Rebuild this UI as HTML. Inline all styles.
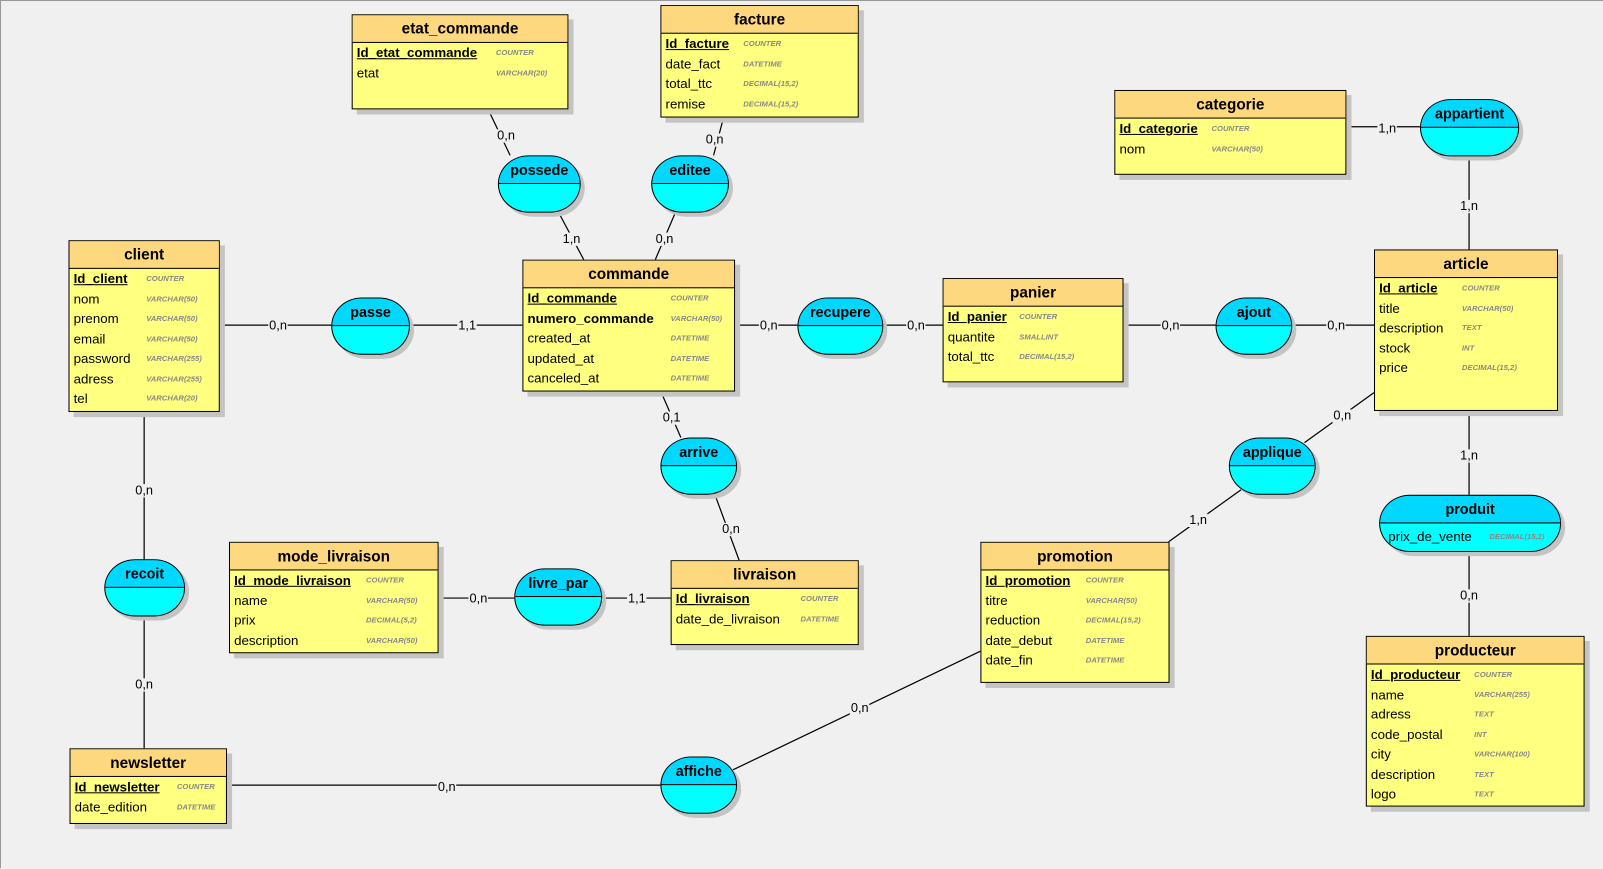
<!DOCTYPE html>
<html><head><meta charset="utf-8"><style>
html,body{margin:0;padding:0;width:1603px;height:868px;overflow:hidden;background:#f0f0f0}
#c{position:absolute;left:0;top:0;width:1568px;height:849px;transform:scale(1.02232);transform-origin:0 0;font-family:"Liberation Sans",sans-serif;border-top:1px solid #999;border-left:1px solid #999;box-sizing:border-box}
.e{position:absolute;border:1px solid #000;background:#ffff80;box-shadow:5px 5px 0 #c4c4c4}
.e .h{height:26px;background:#fed87f;border-bottom:1px solid #000;text-align:center;font-weight:bold;font-size:15px;line-height:27px}
.r{position:relative;height:19.5px;font-size:13px;line-height:19.5px;padding-left:4px;white-space:nowrap}
.r i{position:absolute;top:0;font-size:7.5px;font-weight:bold;color:#888;font-style:italic}
.k{font-weight:bold;text-decoration:underline}
.a{position:absolute;border:1px solid #000;border-radius:30px/28px;overflow:hidden;box-shadow:4px 4px 0 #c4c4c4;background:#00ffff}
.a .t{height:50%;background:#00d8ff;border-bottom:1px solid #000;text-align:center;font-weight:bold;font-size:14px;line-height:26px;box-sizing:border-box}
.l{position:absolute;font-size:12.5px;background:#f0f0f0;transform:translate(-50%,-50%);line-height:13px;padding:0 1px}
svg{position:absolute;left:0;top:0}
</style></head><body><div id="c">
<svg width="1568" height="849" stroke="#000" stroke-width="1.2" fill="none">
<line x1="476" y1="105" x2="498" y2="151"/><line x1="707" y1="113" x2="697" y2="151"/>
<line x1="545" y1="206" x2="570" y2="253"/><line x1="660" y1="206" x2="640" y2="253"/>
<line x1="213" y1="317" x2="323" y2="317"/><line x1="399" y1="317" x2="510" y2="317"/>
<line x1="717" y1="317" x2="779" y2="317"/><line x1="862" y1="317" x2="921" y2="317"/>
<line x1="1097" y1="317" x2="1188" y2="317"/><line x1="1262" y1="317" x2="1343" y2="317"/>
<line x1="1315" y1="123" x2="1388" y2="123"/><line x1="1436" y1="151" x2="1436" y2="243"/>
<line x1="1436" y1="400" x2="1436" y2="483"/><line x1="1436" y1="538" x2="1436" y2="621"/>
<line x1="1343" y1="383" x2="1275" y2="432"/><line x1="1213" y1="478" x2="1142" y2="529"/>
<line x1="645" y1="381" x2="665" y2="427"/><line x1="698" y1="482" x2="722" y2="547"/>
<line x1="140" y1="401" x2="140" y2="546"/><line x1="140" y1="601" x2="140" y2="731"/>
<line x1="427" y1="584" x2="502" y2="584"/><line x1="587" y1="584" x2="655" y2="584"/>
<line x1="220" y1="767" x2="645" y2="767"/><line x1="958" y1="636" x2="716" y2="752"/>
</svg>
<div class="l" style="left:494px;top:132px">0,n</div><div class="l" style="left:698px;top:136px">0,n</div>
<div class="l" style="left:558px;top:233px">1,n</div><div class="l" style="left:649px;top:233px">0,n</div>
<div class="l" style="left:271px;top:318px">0,n</div><div class="l" style="left:456px;top:318px">1,1</div>
<div class="l" style="left:751px;top:318px">0,n</div><div class="l" style="left:895px;top:318px">0,n</div>
<div class="l" style="left:1144px;top:318px">0,n</div><div class="l" style="left:1306px;top:318px">0,n</div>
<div class="l" style="left:1356px;top:125px">1,n</div><div class="l" style="left:1436px;top:201px">1,n</div>
<div class="l" style="left:1436px;top:445px">1,n</div><div class="l" style="left:1436px;top:582px">0,n</div>
<div class="l" style="left:1312px;top:406px">0,n</div><div class="l" style="left:1171px;top:508px">1,n</div>
<div class="l" style="left:656px;top:408px">0,1</div><div class="l" style="left:714px;top:517px">0,n</div>
<div class="l" style="left:140px;top:479px">0,n</div><div class="l" style="left:140px;top:669px">0,n</div>
<div class="l" style="left:467px;top:585px">0,n</div><div class="l" style="left:622px;top:585px">1,1</div>
<div class="l" style="left:436px;top:769px">0,n</div><div class="l" style="left:840px;top:692px">0,n</div>

<div class="e" style="left:343px;top:13px;width:210px;height:91px"><div class="h">etat_commande</div>
<div class="r"><span class="k">Id_etat_commande</span><i style="left:140px">COUNTER</i></div>
<div class="r">etat<i style="left:140px">VARCHAR(20)</i></div></div>

<div class="e" style="left:645px;top:4px;width:192px;height:108px"><div class="h">facture</div>
<div class="r"><span class="k">Id_facture</span><i style="left:80px">COUNTER</i></div>
<div class="r">date_fact<i style="left:80px">DATETIME</i></div>
<div class="r">total_ttc<i style="left:80px">DECIMAL(15,2)</i></div>
<div class="r">remise<i style="left:80px">DECIMAL(15,2)</i></div></div>

<div class="e" style="left:1089px;top:87px;width:225px;height:81px"><div class="h">categorie</div>
<div class="r"><span class="k">Id_categorie</span><i style="left:94px">COUNTER</i></div>
<div class="r">nom<i style="left:94px">VARCHAR(50)</i></div></div>

<div class="e" style="left:66px;top:234px;width:146px;height:166px"><div class="h">client</div>
<div class="r"><span class="k">Id_client</span><i style="left:75px">COUNTER</i></div>
<div class="r">nom<i style="left:75px">VARCHAR(50)</i></div>
<div class="r">prenom<i style="left:75px">VARCHAR(50)</i></div>
<div class="r">email<i style="left:75px">VARCHAR(50)</i></div>
<div class="r">password<i style="left:75px">VARCHAR(255)</i></div>
<div class="r">adress<i style="left:75px">VARCHAR(255)</i></div>
<div class="r">tel<i style="left:75px">VARCHAR(20)</i></div></div>

<div class="e" style="left:510px;top:253px;width:206px;height:127px"><div class="h">commande</div>
<div class="r"><span class="k">Id_commande</span><i style="left:144px">COUNTER</i></div>
<div class="r"><b>numero_commande</b><i style="left:144px">VARCHAR(50)</i></div>
<div class="r">created_at<i style="left:144px">DATETIME</i></div>
<div class="r">updated_at<i style="left:144px">DATETIME</i></div>
<div class="r">canceled_at<i style="left:144px">DATETIME</i></div></div>

<div class="e" style="left:921px;top:271px;width:175px;height:100px"><div class="h">panier</div>
<div class="r"><span class="k">Id_panier</span><i style="left:74px">COUNTER</i></div>
<div class="r">quantite<i style="left:74px">SMALLINT</i></div>
<div class="r">total_ttc<i style="left:74px">DECIMAL(15,2)</i></div></div>

<div class="e" style="left:1343px;top:243px;width:178px;height:156px"><div class="h">article</div>
<div class="r"><span class="k">Id_article</span><i style="left:85px">COUNTER</i></div>
<div class="r">title<i style="left:85px">VARCHAR(50)</i></div>
<div class="r">description<i style="left:85px">TEXT</i></div>
<div class="r">stock<i style="left:85px">INT</i></div>
<div class="r">price<i style="left:85px">DECIMAL(15,2)</i></div></div>

<div class="e" style="left:223px;top:529px;width:203px;height:107px"><div class="h">mode_livraison</div>
<div class="r"><span class="k">Id_mode_livraison</span><i style="left:133px">COUNTER</i></div>
<div class="r">name<i style="left:133px">VARCHAR(50)</i></div>
<div class="r">prix<i style="left:133px">DECIMAL(5,2)</i></div>
<div class="r">description<i style="left:133px">VARCHAR(50)</i></div></div>

<div class="e" style="left:655px;top:547px;width:182px;height:81px"><div class="h">livraison</div>
<div class="r"><span class="k">Id_livraison</span><i style="left:126px">COUNTER</i></div>
<div class="r">date_de_livraison<i style="left:126px">DATETIME</i></div></div>

<div class="e" style="left:958px;top:529px;width:183px;height:136px"><div class="h">promotion</div>
<div class="r"><span class="k">Id_promotion</span><i style="left:102px">COUNTER</i></div>
<div class="r">titre<i style="left:102px">VARCHAR(50)</i></div>
<div class="r">reduction<i style="left:102px">DECIMAL(15,2)</i></div>
<div class="r">date_debut<i style="left:102px">DATETIME</i></div>
<div class="r">date_fin<i style="left:102px">DATETIME</i></div></div>

<div class="e" style="left:1335px;top:621px;width:212px;height:165px"><div class="h">producteur</div>
<div class="r"><span class="k">Id_producteur</span><i style="left:105px">COUNTER</i></div>
<div class="r">name<i style="left:105px">VARCHAR(255)</i></div>
<div class="r">adress<i style="left:105px">TEXT</i></div>
<div class="r">code_postal<i style="left:105px">INT</i></div>
<div class="r">city<i style="left:105px">VARCHAR(100)</i></div>
<div class="r">description<i style="left:105px">TEXT</i></div>
<div class="r">logo<i style="left:105px">TEXT</i></div></div>

<div class="e" style="left:67px;top:731px;width:152px;height:72px"><div class="h">newsletter</div>
<div class="r"><span class="k">Id_newsletter</span><i style="left:104px">COUNTER</i></div>
<div class="r">date_edition<i style="left:104px">DATETIME</i></div></div>

<div class="a" style="left:486px;top:151px;width:79px;height:54px"><div class="t">possede</div></div>
<div class="a" style="left:636px;top:151px;width:74px;height:54px"><div class="t">editee</div></div>
<div class="a" style="left:323px;top:290px;width:75px;height:54px"><div class="t">passe</div></div>
<div class="a" style="left:779px;top:290px;width:82px;height:54px"><div class="t">recupere</div></div>
<div class="a" style="left:1188px;top:290px;width:73px;height:54px"><div class="t">ajout</div></div>
<div class="a" style="left:1388px;top:96px;width:95px;height:54px"><div class="t">appartient</div></div>
<div class="a" style="left:645px;top:427px;width:73px;height:54px"><div class="t">arrive</div></div>
<div class="a" style="left:1201px;top:427px;width:83px;height:54px"><div class="t">applique</div></div>
<div class="a" style="left:1348px;top:483px;width:176px;height:54px"><div class="t">produit</div><div class="r" style="padding-left:8px;line-height:26px">prix_de_vente<i style="left:107px;line-height:26px">DECIMAL(15,2)</i></div></div>
<div class="a" style="left:101px;top:546px;width:77px;height:54px"><div class="t">recoit</div></div>
<div class="a" style="left:502px;top:555px;width:84px;height:54px"><div class="t">livre_par</div></div>
<div class="a" style="left:645px;top:739px;width:73px;height:54px"><div class="t">affiche</div></div>
</div></body></html>
